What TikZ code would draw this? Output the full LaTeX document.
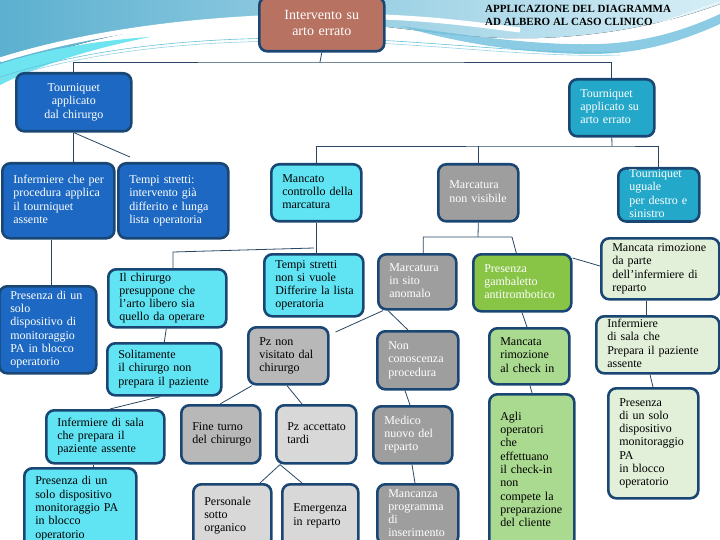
\documentclass[tikz,border=0pt]{standalone}
\usepackage{fontspec}
\setmainfont{Liberation Serif}
\usetikzlibrary{calc}
\definecolor{navy}{RGB}{26,70,116}
\definecolor{lnk}{RGB}{40,70,100}
\definecolor{cblue}{RGB}{28,104,194}
\definecolor{cteal}{RGB}{36,168,202}
\definecolor{ccyan}{RGB}{96,228,244}
\definecolor{cdgray}{RGB}{158,158,158}
\definecolor{cmgray}{RGB}{184,184,184}
\definecolor{clgray}{RGB}{216,216,216}
\definecolor{cgreen}{RGB}{136,196,70}
\definecolor{clgreen}{RGB}{170,218,144}
\definecolor{cpale}{RGB}{226,240,218}
\definecolor{cbrown}{RGB}{184,114,98}
\definecolor{bgA}{RGB}{92,176,208}
\definecolor{bgB}{RGB}{214,238,246}
\definecolor{bgC}{RGB}{110,190,220}
\definecolor{glow}{RGB}{110,228,240}
\newcommand{\tl}[1]{\begin{tabular}{@{}l@{}}#1\end{tabular}}
\newcommand{\tc}[1]{\begin{tabular}{@{}c@{}}#1\end{tabular}}
\tikzset{
  bx/.style={draw=navy, line width=2.6pt, rounded corners=8pt, anchor=north west,
    inner xsep=11pt, inner ysep=0pt, align=left, font=\fontsize{12}{13.3}\selectfont},
  wt/.style={text=white},
  bk/.style={text=black},
  ctr/.style={align=center},
  conn/.style={draw=lnk, line width=0.8pt},
}
% #1 style, #2 name, #3 x1, #4 y1, #5 x2, #6 y2, #7 text
\newcommand{\bnode}[7]{%
  \pgfmathsetmacro\bw{#5-#3}\pgfmathsetmacro\bh{#6-#4}\pgfmathsetmacro\tw{#5-#3-22}%
  \node[bx,#1,minimum width=\bw pt,minimum height=\bh pt,text width=\tw pt] (#2) at (#3,#4) {#7};}
\begin{document}
\begin{tikzpicture}[x=1pt,y=-1pt]
\useasboundingbox (0,0) rectangle (720,540);
\clip (0,0) rectangle (720,540);
% background header swoosh
\fill[left color=bgA, right color=bgB] (0,0) -- (720,0) -- (720,4)
  .. controls (650,30) and (560,44) .. (470,36)
  .. controls (390,29) and (330,16) .. (240,20)
  .. controls (140,25) and (60,45) .. (0,72) -- cycle;
\fill[bgC, opacity=.8] (400,26) .. controls (470,36) and (540,46) .. (600,44)
  .. controls (650,42) and (690,28) .. (720,14) -- (720,24)
  .. controls (680,42) and (640,54) .. (590,54)
  .. controls (530,54) and (460,44) .. (400,26) -- cycle;
\draw[white, line width=5pt] (0,60) .. controls (90,32) and (200,17) .. (330,16)
  .. controls (420,16) and (470,24) .. (520,30);
\fill[glow] (0,64) .. controls (40,51) and (90,41) .. (150,37)
  .. controls (90,49) and (40,65) .. (0,85) -- cycle;
\draw[cteal!70, line width=0.6pt] (0,77) .. controls (90,48) and (190,38) .. (300,38)
  .. controls (420,38) and (520,55) .. (620,52);
\draw[cteal!50, line width=0.6pt] (0,80) .. controls (90,51) and (190,41) .. (300,41)
  .. controls (420,41) and (520,58) .. (620,55);
\draw[white, line width=0.6pt] (610,40) -- (720,2);
\draw[white, line width=0.6pt] (630,40) -- (720,10);
% title
\node[anchor=north west, inner sep=0pt, align=left,
  font=\bfseries\fontsize{11}{13}\selectfont] (title) at (485,5)
  {APPLICAZIONE DEL DIAGRAMMA\\AD ALBERO AL CASO CLINICO};
% nodes
\bnode{fill=cbrown,wt,ctr,font=\fontsize{14}{16.5}\selectfont}{root}{258}{-4}{383}{50}{\tc{Intervento su\\arto errato}}
\bnode{fill=cblue,wt,ctr}{TL}{15}{72}{130}{130}{\tc{Tourniquet\\applicato\\dal chirurgo}}
\bnode{fill=cteal,wt}{TR}{568}{78}{653}{135}{\tl{Tourniquet\\applicato su\\arto errato}}
\bnode{fill=cblue,wt}{IC}{1}{162}{113}{237}{\tl{Infermiere che per\\procedura applica\\il tourniquet\\assente}}
\bnode{fill=cblue,wt}{TS}{117}{162}{227}{237}{\tl{Tempi stretti:\\intervento già\\differito e lunga\\lista operatoria}}
\bnode{fill=cblue,wt}{PD}{-2}{285}{95}{372}{\tl{Presenza di un\\solo\\dispositivo di\\monitoraggio\\PA in blocco\\operatorio}}
\bnode{fill=ccyan,bk}{MC}{270}{163}{360}{220}{\tl{Mancato\\controllo della\\marcatura}}
\bnode{fill=cdgray,wt}{MNV}{437}{163}{517}{220}{\tl{Marcatura\\non visibile}}
\bnode{fill=cteal,wt}{TU}{617}{167}{698}{220}{\tl{Tourniquet\\uguale\\per destro e\\sinistro}}
\bnode{fill=ccyan,bk}{TSV}{263}{253}{362}{315}{\tl{Tempi stretti\\non si vuole\\Differire la lista\\operatoria}}
\bnode{fill=ccyan,bk}{ICP}{107}{268}{225}{326}{\tl{Il chirurgo\\presuppone che\\l'arto libero sia\\quello da operare}}
\bnode{fill=ccyan,bk}{SOL}{106}{342}{220}{394}{\tl{Solitamente\\il chirurgo non\\prepara il paziente}}
\bnode{fill=ccyan,bk}{ISP}{45}{409}{163}{462}{\tl{Infermiere di sala\\che prepara il\\paziente assente}}
\bnode{fill=ccyan,bk}{PD2}{23}{467}{135}{548}{\tl{Presenza di un\\solo dispositivo\\monitoraggio PA\\in blocco\\operatorio}}
\bnode{fill=cmgray,bk}{PNV}{247}{326}{327}{383}{\tl{Pz non\\visitato dal\\chirurgo}}
\bnode{fill=cdgray,wt}{MSA}{377}{253}{455}{308}{\tl{Marcatura\\in sito\\anomalo}}
\bnode{fill=cgreen,wt}{PG}{472}{253}{570}{310}{\tl{Presenza\\gambaletto\\antitrombotico}}
\bnode{fill=cdgray,wt}{NC}{376}{330}{457}{388}{\tl{Non\\conoscenza\\procedura}}
\bnode{fill=cdgray,wt}{MN}{372}{405}{451}{462}{\tl{Medico\\nuovo del\\reparto}}
\bnode{fill=cdgray,wt}{MP}{376}{483}{457}{543}{\tl{Mancanza\\programma\\di\\inserimento}}
\bnode{fill=cmgray,bk}{FT}{180}{404}{259}{462}{\tl{Fine turno\\del chirurgo}}
\bnode{fill=clgray,bk}{PAT}{275}{404}{355}{462}{\tl{Pz accettato\\tardi}}
\bnode{fill=clgray,bk}{PS}{192}{483}{270}{546}{\tl{Personale\\sotto\\organico}}
\bnode{fill=clgray,bk}{EM}{281}{483}{357}{546}{\tl{Emergenza\\in reparto}}
\bnode{fill=clgreen,bk}{MRC}{488}{327}{568}{383}{\tl{Mancata\\rimozione\\al check in}}
\bnode{fill=clgreen,bk}{AO}{488}{393}{573}{546}{\tl{Agli\\operatori\\che\\effettuano\\il check-in\\non\\compete la\\preparazione\\del cliente}}
\bnode{fill=cpale,bk}{MRI}{600}{237}{718}{298}{\tl{Mancata rimozione\\da parte\\dell'infermiere di\\reparto}}
\bnode{fill=cpale,bk}{IS2}{595}{315}{718}{372}{\tl{Infermiere\\di sala che\\Prepara il paziente\\assente}}
\bnode{fill=cpale,bk}{PD3}{607}{387}{697}{497}{\tl{Presenza\\di un solo\\dispositivo\\monitoraggio\\PA\\in blocco\\operatorio}}
% junction coordinates
\coordinate (j1) at (320,62);
\coordinate (j2) at (612,146);
\coordinate (j3) at (314,248);
\coordinate (j4) at (173,252);
\coordinate (j5) at (478,237);
\coordinate (j6) at (512,237);
% connectors
\draw[conn] (root.south) -- (j1);
\draw[conn] (TL.north) |- (j1) -| (TR.north);
\draw[conn] (TL.south) -- (TL.south |- IC.north);
\draw[conn] (TL.south) -- ([xshift=13pt,yshift=5pt]TS.north west);
\draw[conn] ([xshift=50pt]IC.south west) -- ([xshift=50pt]IC.south west |- PD.north);
\draw[conn] (TR.south) -- (j2);
\draw[conn] (MC.north) |- (j2) -| (TU.north);
\draw[conn] (MNV.north) -- (MNV.north |- j2);
\draw[conn] (MC.south) -- (MC.south |- TSV.north);
\draw[conn] (j3) -- (j4) -- (j4 |- ICP.north);
\draw[conn] ([xshift=-1pt]ICP.south) -- (SOL.north);
\draw[conn] ([xshift=-4pt]SOL.south) -- ([xshift=65pt]ISP.north west);
\draw[conn] ([xshift=48pt]ISP.south west) -- ([xshift=70pt]PD2.north west);
\draw[conn] (MNV.south) -- (j5);
\draw[conn] ([xshift=6pt]MSA.north) |- (j5) -- (j6) -- ([xshift=-6pt]PG.north);
\draw[conn] ([xshift=6pt]MSA.south west) -- ([xshift=6pt,yshift=-6pt]PNV.north east);
\draw[conn] ([xshift=11pt]MSA.south west) -- ([xshift=32pt]NC.north west);
\draw[conn] ([xshift=29pt]NC.south west) -- ([xshift=38pt]MN.north west);
\draw[conn] ([xshift=40pt]MN.south west) -- ([xshift=39pt]MP.north west);
\draw[conn] ([xshift=5pt]PNV.south west) -- ([xshift=40pt]FT.north west);
\draw[conn] ([xshift=40pt]PNV.south west) -- ([xshift=27pt]PAT.north west);
\draw[conn] ([xshift=5pt]PAT.south west) -- ([xshift=68pt]PS.north west);
\draw[conn] ([xshift=5pt]PAT.south west) -- ([xshift=21pt]EM.north west);
\draw[conn] ([xshift=50pt]PG.south west) -- ([xshift=39pt]MRC.north west);
\draw[conn] ([xshift=42pt]MRC.south west) -- ([xshift=44pt]AO.north west);
\draw[conn] ([yshift=-5pt]PG.north east) -- ([yshift=-29pt]MRI.north west);
\draw[conn] ([xshift=46pt]MRI.south west) -- ([xshift=51pt]IS2.north west);
\draw[conn] ([xshift=55pt]IS2.south west) -- ([xshift=46pt]PD3.north west);
\end{tikzpicture}
\end{document}
